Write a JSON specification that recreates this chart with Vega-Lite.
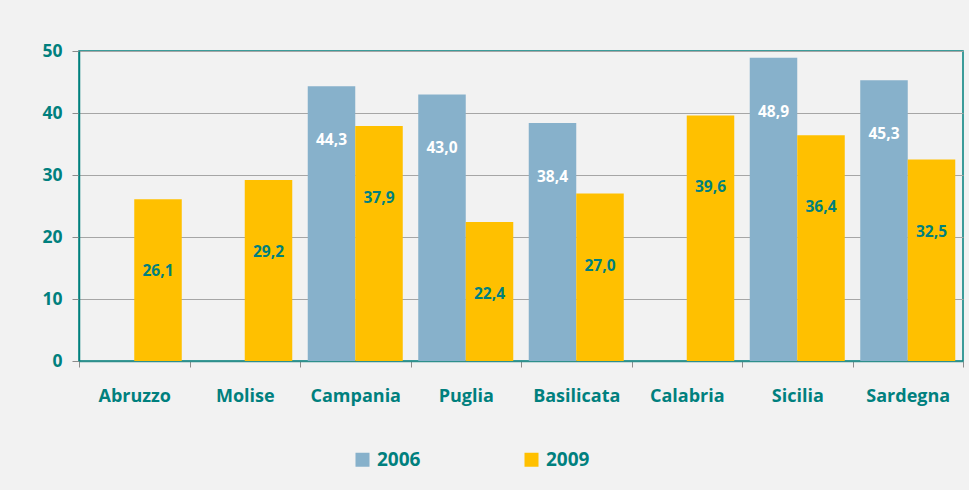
{
  "$schema": "https://vega.github.io/schema/vega-lite/v6.json",
  "width": 884,
  "height": 310,
  "autosize": {"type": "none"},
  "padding": {"left": 79, "top": 51, "right": 6, "bottom": 129},
  "background": "#f2f2f2",
  "data": {
    "values": [
      {"regione": "Abruzzo", "anno": "2009", "valore": 26.1},
      {"regione": "Molise", "anno": "2009", "valore": 29.2},
      {"regione": "Campania", "anno": "2006", "valore": 44.3},
      {"regione": "Campania", "anno": "2009", "valore": 37.9},
      {"regione": "Puglia", "anno": "2006", "valore": 43.0},
      {"regione": "Puglia", "anno": "2009", "valore": 22.4},
      {"regione": "Basilicata", "anno": "2006", "valore": 38.4},
      {"regione": "Basilicata", "anno": "2009", "valore": 27.0},
      {"regione": "Calabria", "anno": "2009", "valore": 39.6},
      {"regione": "Sicilia", "anno": "2006", "valore": 48.9},
      {"regione": "Sicilia", "anno": "2009", "valore": 36.4},
      {"regione": "Sardegna", "anno": "2006", "valore": 45.3},
      {"regione": "Sardegna", "anno": "2009", "valore": 32.5}
    ]
  },
  "encoding": {
    "x": {
      "field": "regione",
      "type": "nominal",
      "sort": null,
      "scale": {"paddingInner": 0, "paddingOuter": 0},
      "axis": {
        "title": null,
        "labelAngle": 0,
        "tickBand": "extent",
        "tickSize": 6,
        "tickColor": "#8c8c8c",
        "domainColor": "#2f8f8c",
        "domainWidth": 1.5,
        "labelPadding": 20,
        "labelFont": "Open Sans",
        "labelFontWeight": "bold",
        "labelFontSize": 18,
        "labelColor": "#00807e"
      }
    },
    "xOffset": {
      "field": "anno",
      "type": "nominal",
      "scale": {"domain": ["2006", "2009"], "paddingInner": 0, "paddingOuter": 0.163}
    },
    "y": {
      "field": "valore",
      "type": "quantitative",
      "scale": {"domain": [0, 50]},
      "axis": {
        "title": null,
        "values": [0, 10, 20, 30, 40, 50],
        "tickSize": 7,
        "tickColor": "#8c8c8c",
        "domainColor": "#00807e",
        "domainWidth": 1.5,
        "gridColor": "#a6a6a6",
        "gridWidth": 1,
        "labelPadding": 10,
        "labelFont": "Open Sans",
        "labelFontWeight": "bold",
        "labelFontSize": 17.5,
        "labelColor": "#00807e"
      }
    }
  },
  "layer": [
    {
      "mark": {"type": "bar"},
      "encoding": {
        "color": {
          "field": "anno",
          "type": "nominal",
          "scale": {"domain": ["2006", "2009"], "range": ["#87b1cb", "#ffc000"]},
          "legend": {
            "title": null,
            "orient": "none",
            "direction": "horizontal",
            "legendX": 274,
            "legendY": 399,
            "symbolType": "square",
            "symbolSize": 196,
            "symbolStrokeWidth": 0,
            "labelOffset": 5,
            "columnPadding": 101,
            "labelFont": "Open Sans",
            "labelFontWeight": "bold",
            "labelFontSize": 19,
            "labelColor": "#00807e"
          }
        }
      }
    },
    {
      "transform": [{"filter": "datum.anno === '2006'"}],
      "mark": {"type": "text", "dy": 54, "baseline": "middle", "font": "Open Sans", "fontWeight": "bold", "fontSize": 15.5, "color": "#ffffff"},
      "encoding": {
        "text": {"field": "valore", "type": "quantitative", "format": ".1f"}
      }
    },
    {
      "transform": [{"filter": "datum.anno === '2009'"}],
      "mark": {"type": "text", "dy": 72, "baseline": "middle", "font": "Open Sans", "fontWeight": "bold", "fontSize": 15.5, "color": "#00807e"},
      "encoding": {
        "text": {"field": "valore", "type": "quantitative", "format": ".1f"}
      }
    }
  ],
  "config": {
    "view": {"stroke": "#00807e", "strokeWidth": 1.5},
    "locale": {"number": {"decimal": ",", "thousands": ".", "grouping": [3], "currency": ["€", ""]}}
  }
}
